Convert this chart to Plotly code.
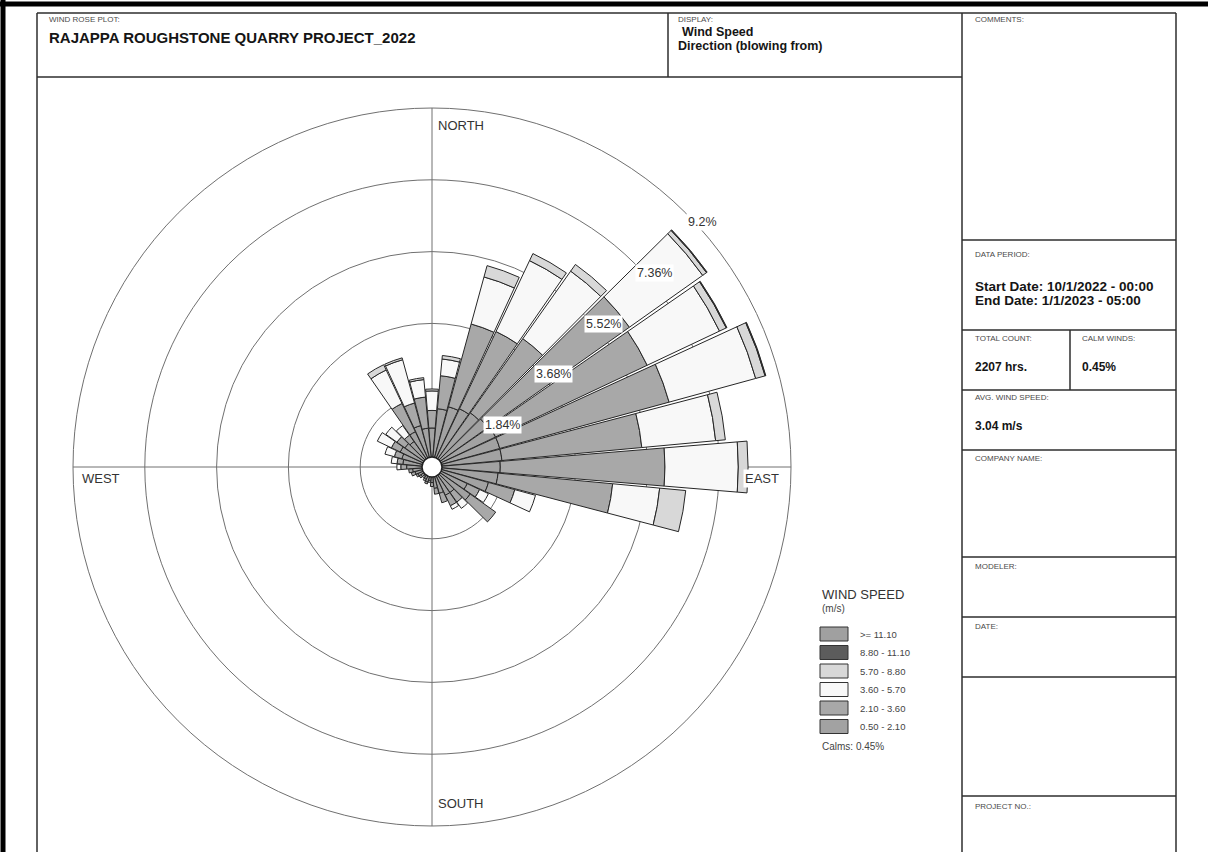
import plotly.graph_objects as go

# ---------------------------------------------------------------- data
directions = list(range(0, 360, 10))

speed_bins = ["0.50 - 2.10", "2.10 - 3.60", "3.60 - 5.70",
              "5.70 - 8.80", "8.80 - 11.10", ">= 11.10"]
bin_colors = ["#a2a2a2", "#a8a8a8", "#f8f8f8", "#d8d8d8", "#5c5c5c", "#a0a0a0"]

# frequency (%) per direction sector (blowing from), one list per speed class
freq_050_210 = [1.00, 1.50, 1.60, 1.65, 1.70, 1.75, 1.80, 1.80, 1.80, 1.75, 1.70, 1.50,
                1.00, 1.20, 0.80, 0.80, 0.70, 0.55, 0.40, 0.35, 0.40, 0.35, 0.30, 0.35,
                0.40, 0.45, 0.50, 0.65, 0.75, 0.80, 0.90, 0.85, 0.80, 1.00, 1.10, 1.00]
freq_210_360 = [0.45, 0.85, 2.20, 2.19, 2.33, 4.45, 4.30, 4.50, 3.60, 4.22, 2.95, 0.70,
                0.35, 0.80, 0.30, 0.30, 0.25, 0.15, 0.10, 0.05, 0.05, 0.05, 0.05, 0.05,
                0.05, 0.10, 0.10, 0.15, 0.15, 0.20, 0.25, 0.25, 0.20, 0.80, 0.60, 0.80]
freq_360_570 = [0.50, 0.43, 1.25, 2.01, 2.12, 2.30, 2.05, 2.30, 1.90, 1.88, 1.21, 0.55,
                0.25, 0.00, 0.20, 0.10, 0.00, 0.00, 0.00, 0.00, 0.00, 0.00, 0.00, 0.00,
                0.00, 0.00, 0.00, 0.10, 0.15, 0.25, 0.40, 0.35, 0.30, 0.95, 1.15, 0.45]
freq_570_880 = [0.05, 0.09, 0.30, 0.20, 0.21, 0.12, 0.19, 0.25, 0.25, 0.25, 0.67, 0.00,
                0.00, 0.00, 0.00, 0.00, 0.00, 0.00, 0.00, 0.00, 0.00, 0.00, 0.00, 0.00,
                0.00, 0.00, 0.00, 0.00, 0.00, 0.00, 0.00, 0.00, 0.00, 0.15, 0.05, 0.05]
freq_880_1110 = [0.00, 0.00, 0.00, 0.00, 0.00, 0.02, 0.02, 0.02, 0.00, 0.00, 0.00, 0.00,
                 0.00, 0.00, 0.00, 0.00, 0.00, 0.00, 0.00, 0.00, 0.00, 0.00, 0.00, 0.00,
                 0.00, 0.00, 0.00, 0.00, 0.00, 0.00, 0.00, 0.00, 0.00, 0.00, 0.00, 0.00]
freq_ge_1110 = [0.00] * 36

ring_values = [1.84, 3.68, 5.52, 7.36, 9.2]
ring_labels = ["1.84%", "3.68%", "5.52%", "7.36%", "9.2%"]
calm_pct = 0.45

# ---------------------------------------------------------------- page geometry
W, H = 1208, 852
FONT = "Arial, 'Liberation Sans', sans-serif"


def px(x):
    return x / W


def py(y):
    return 1 - y / H


# rose occupies a square of 718 px centred at (432, 467)
dom_x = [px(73), px(791)]
dom_y = [py(826), py(108)]

fig = go.Figure()

series = [freq_050_210, freq_210_360, freq_360_570,
          freq_570_880, freq_880_1110, freq_ge_1110]
for name, color, vals in zip(speed_bins, bin_colors, series):
    fig.add_trace(go.Barpolar(
        r=vals, theta=directions, width=[9.4] * len(directions), name=name,
        marker=dict(color=color, line=dict(color="#262626", width=1)),
        showlegend=False, hoverinfo="skip",
    ))

# calm circle at the centre
fig.add_trace(go.Scatterpolar(
    r=[0], theta=[0], mode="markers", showlegend=False, hoverinfo="skip",
    marker=dict(size=20, color="white", line=dict(color="#222222", width=1.5)),
))

fig.update_layout(
    width=W, height=H, autosize=False,
    margin=dict(l=0, r=0, t=0, b=0),
    paper_bgcolor="white",
    font=dict(family=FONT, color="#222222"),
    polar=dict(
        domain=dict(x=dom_x, y=dom_y),
        bgcolor="white",
        barmode="stack",
        radialaxis=dict(range=[0, ring_values[-1]], tickvals=ring_values,
                        showticklabels=False, ticks="", showline=False,
                        gridcolor="#707070", gridwidth=1),
        angularaxis=dict(rotation=90, direction="clockwise",
                         tickvals=[0, 90, 180, 270], showticklabels=False, ticks="",
                         gridcolor="#707070", gridwidth=1,
                         showline=True, linecolor="#707070", linewidth=1,
                         layer="below traces"),
    ),
)

shapes = []
annotations = []
LINE = "#2e2e2e"


def hline(x0, x1, y, w=1.5, c=LINE):
    shapes.append(dict(type="line", xref="paper", yref="paper",
                       x0=px(x0), x1=px(x1), y0=py(y), y1=py(y),
                       line=dict(color=c, width=w)))


def vline(x, y0, y1, w=1.5, c=LINE):
    shapes.append(dict(type="line", xref="paper", yref="paper",
                       x0=px(x), x1=px(x), y0=py(y0), y1=py(y1),
                       line=dict(color=c, width=w)))


def text(x, y, s, size=8, bold=False, color="#4a4a4a", anchor="left", bg=None):
    a = dict(xref="paper", yref="paper", x=px(x), y=py(y),
             text=f"<b>{s}</b>" if bold else s, showarrow=False,
             xanchor=anchor, yanchor="middle",
             font=dict(size=size, color=color, family=FONT))
    if bg:
        a.update(bgcolor=bg, borderpad=1)
    annotations.append(a)


# outer page border
hline(0, W, 4, w=5, c="#000000")
vline(3, 0, H, w=5, c="#000000")

# header boxes
hline(37, 1176, 13)
hline(37, 962, 77)
vline(37, 13, H)
vline(668, 13, 77)
vline(962, 13, H)
vline(1176, 13, H)

# right information column
for yy in [240, 330, 390, 450, 557, 617, 677, 796]:
    hline(962, 1176, yy)
vline(1070, 330, 390)

DARK = "#151515"
text(47, 19, "WIND ROSE PLOT:", size=8)
text(47, 38, "RAJAPPA ROUGHSTONE QUARRY PROJECT_2022", size=15, bold=True, color=DARK)
text(676, 19, "DISPLAY:", size=8)
text(680, 32, "Wind Speed", size=12.5, bold=True, color=DARK)
text(676, 46, "Direction (blowing from)", size=12.5, bold=True, color=DARK)
text(973, 19, "COMMENTS:", size=8)
text(973, 255, "DATA PERIOD:", size=8)
text(973, 286, "Start Date: 10/1/2022 - 00:00", size=13.5, bold=True, color=DARK)
text(973, 301, "End Date: 1/1/2023 - 05:00", size=13.5, bold=True, color=DARK)
text(973, 338, "TOTAL COUNT:", size=8)
text(1080, 338, "CALM WINDS:", size=8)
text(973, 367, "2207 hrs.", size=12, bold=True, color=DARK)
text(1080, 367, f"{calm_pct:.2f}%", size=12, bold=True, color=DARK)
text(973, 397, "AVG. WIND SPEED:", size=8)
text(973, 426, "3.04 m/s", size=12, bold=True, color=DARK)
text(973, 458, "COMPANY NAME:", size=8)
text(973, 566, "MODELER:", size=8)
text(973, 626, "DATE:", size=8)
text(973, 806, "PROJECT NO.:", size=8)

# compass labels
text(436, 125, "NORTH", size=13, color="#333333")
text(436, 803, "SOUTH", size=13, color="#333333")
text(80, 478, "WEST", size=13, color="#333333")
text(743, 478, "EAST", size=13, color="#333333", bg="white")

# ring labels along the 45 degree line, placed from the polar scale
cx = (dom_x[0] + dom_x[1]) / 2
cy = (dom_y[0] + dom_y[1]) / 2
rx = (dom_x[1] - dom_x[0]) / 2
ry = (dom_y[1] - dom_y[0]) / 2
for v, lab in zip(ring_values, ring_labels):
    f = v / ring_values[-1] * 0.70710678
    annotations.append(dict(xref="paper", yref="paper", x=cx + rx * f, y=cy + ry * f,
                            text=lab, showarrow=False, xanchor="left", yanchor="top",
                            bgcolor="white", borderpad=1,
                            font=dict(size=12.5, color="#333333", family=FONT)))

# legend
text(820, 594, "WIND SPEED", size=13, color="#333333")
text(820, 608, "(m/s)", size=10, color="#444444")
legend_y = [634, 652.5, 671, 689.5, 708, 726.5]
for yy, name, color in zip(legend_y, speed_bins[::-1], bin_colors[::-1]):
    shapes.append(dict(type="rect", xref="paper", yref="paper",
                       x0=px(820), x1=px(848), y0=py(yy + 7), y1=py(yy - 7),
                       fillcolor=color, line=dict(color="#333333", width=1)))
    text(858, yy, name, size=9.5, color="#444444")
text(820, 746, f"Calms: {calm_pct:.2f}%", size=10, color="#444444")

fig.update_layout(shapes=shapes, annotations=annotations)
fig.write_html("out.html")
